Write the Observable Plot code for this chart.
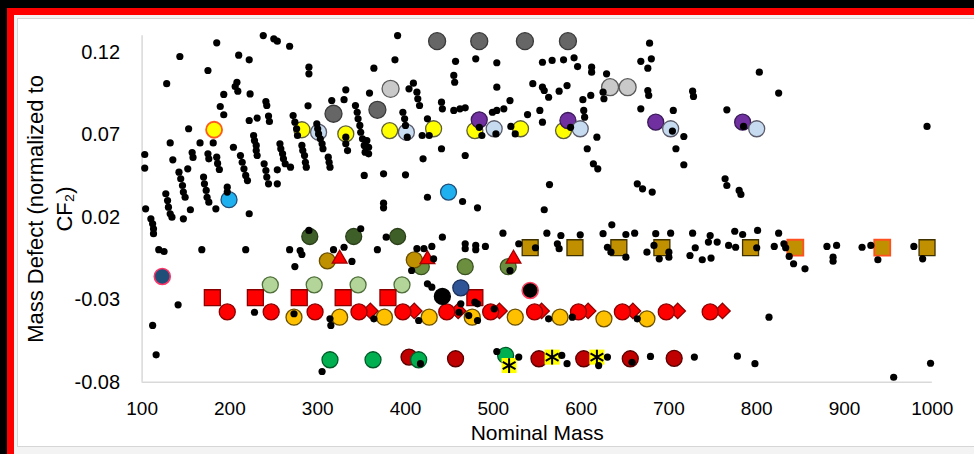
<!DOCTYPE html>
<html><head><meta charset="utf-8">
<script src="https://cdn.jsdelivr.net/npm/d3@7"></script>
<script src="https://cdn.jsdelivr.net/npm/@observablehq/plot@0.6"></script>
<style>
html,body{margin:0;padding:0;background:#000;width:974px;height:454px;overflow:hidden;}
#red{position:absolute;left:7px;top:8px;right:0;bottom:0;background:#ff0000;}
#inner{position:absolute;left:14px;top:15px;right:0;bottom:0;background:#f3f3f3;}
#paper{position:absolute;left:17px;top:18px;width:960px;height:427px;background:#fff;border:1px solid #d6d6d6;}
#chart{position:absolute;left:0;top:0;}
</style></head><body>
<div id="red"></div><div id="inner"></div><div id="paper"></div>
<div id="chart"></div>
<script>
const xTicks = [100,200,300,400,500,600,700,800,900,1000];
const yTicks = [-0.08,-0.03,0.02,0.07,0.12];

const darkGrayMass = [436,484,536,585,318,368];
const darkGrayDefect = [0.1267,0.1267,0.1267,0.1267,0.0827,0.0851];
const lightGrayMass = [383,633,653];
const lightGrayDefect = [0.0978,0.0988,0.0988];
const yellowMass = [282,332,382,432,479,531,580];
const yellowDefect = [0.0730,0.0705,0.0725,0.0736,0.0725,0.0736,0.0725];
const yellowOrangeMass = [182];
const yellowOrangeDefect = [0.0730];
const purpleMass = [484,585,685,784];
const purpleDefect = [0.0790,0.0786,0.0776,0.0776];
const lightBlueMass = [301,401,501,599,702,800];
const lightBlueDefect = [0.0715,0.0715,0.0736,0.0736,0.0736,0.0736];
const cyanMass = [199,449];
const cyanDefect = [0.0306,0.0352];
const darkGreenMass = [291,341,391];
const darkGreenDefect = [0.0083,0.0083,0.0083];
const medGreenMass = [418,468,517];
const medGreenDefect = [-0.0100,-0.0100,-0.0100];
const goldCircleMass = [311,410];
const goldCircleDefect = [-0.0065,-0.0059];
const redTriangleMass = [325,425,523];
const redTriangleDefect = [-0.0052,-0.0056,-0.0052];
const lightGreenMass = [246,296,346,396];
const lightGreenDefect = [-0.0210,-0.0210,-0.0210,-0.0210];
const redSquareMass = [180,229,279,329,380,479];
const redSquareDefect = [-0.0288,-0.0288,-0.0288,-0.0288,-0.0288,-0.0288];
const redDiamondMass = [360,410,460,507,555,608,659,710,761];
const redDiamondDefect = [-0.0368,-0.0368,-0.0368,-0.0368,-0.0368,-0.0368,-0.0368,-0.0368,-0.0368];
const redCircleMass = [197,247,297,347,397,447,497,547,597,647,697,747];
const redCircleDefect = [-0.0374,-0.0374,-0.0374,-0.0374,-0.0374,-0.0374,-0.0374,-0.0374,-0.0374,-0.0374,-0.0374,-0.0374];
const orangeCircleMass = [273,325,376,427,476,525,576,626,675];
const orangeCircleDefect = [-0.0406,-0.0406,-0.0406,-0.0406,-0.0406,-0.0406,-0.0406,-0.0416,-0.0416];
const goldSquareMass = [542,593,643,692,793,994];
const goldSquareDefect = [0.0015,0.0015,0.0015,0.0015,0.0015,0.0015];
const goldSquareOrangeMass = [844,943];
const goldSquareOrangeDefect = [0.0015,0.0015];
const navyMass = [123];
const navyDefect = [-0.0159];
const blueMass = [463];
const blueDefect = [-0.0228];
const blackBigMass = [442];
const blackBigDefect = [-0.0280];
const blackRingMass = [542];
const blackRingDefect = [-0.0244];
const darkRedMass = [404,457,552,603,656,706];
const darkRedDefect = [-0.0648,-0.0658,-0.0658,-0.0658,-0.0658,-0.0655];
const greenMass = [314,363,415,514];
const greenDefect = [-0.0664,-0.0664,-0.0664,-0.0638];
const yellowXMass = [518,567,618];
const yellowXDefect = [-0.0699,-0.0648,-0.0648];

const blackMass = [
238,250,254,268,185,143,210,222,175,290,
290,128,208,206,209,193,223,241,242,189,
193,289,222,231,244,245,272,274,276,277,
153,332,330,316,359,388,391,364,132,166,
181,204,157,158,135,103,103,175,176,185,
186,188,227,228,230,230,231,212,214,216,
218,220,239,241,242,244,257,258,260,261,
263,269,282,283,285,286,287,299,300,301,
303,305,306,312,313,314,332,332,334,343,
345,346,348,349,351,353,354,356,358,358,
353,375,142,144,146,147,149,152,170,171,
173,174,176,127,129,130,132,134,197,197,
254,254,104,155,147,184,222,110,112,113,
113,119,125,168,218,268,280,282,290,141,
112,116,274,318,330,339,349,368,375,375,
378,228,273,314,315,364,305,457,480,504,
556,567,580,592,596,612,612,629,668,680,
676,678,455,456,409,413,414,416,404,441,
442,455,462,468,504,519,499,504,512,545,
556,558,563,575,584,539,553,556,602,611,
603,604,625,626,676,677,668,705,397,399,
400,425,427,419,402,484,487,503,520,525,
588,618,607,441,420,468,400,614,619,564,
664,670,681,425,465,708,704,803,825,727,
728,766,717,717,764,766,780,782,994,785,
482,558,442,511,561,577,599,635,625,651,
661,685,702,413,421,430,468,468,480,480,
491,529,548,573,575,630,634,651,675,683,
689,700,407,432,519,425,430,415,463,461,
482,482,472,501,563,590,664,504,529,578,
584,620,630,658,679,417,700,727,730,724,
738,747,745,755,748,768,776,775,784,801,
820,825,831,833,837,842,855,880,891,887,
887,920,930,938,979,989,814,729,778,798,
956,998,800,479
];
const blackDefect = [
0.1301,0.1281,0.1267,0.1236,0.1257,0.1174,0.1182,0.1154,0.1089,0.1109,
0.1069,0.1009,0.1018,0.0992,0.0964,0.0944,0.0947,0.0901,0.0877,0.0871,
0.0821,0.0875,0.0786,0.0801,0.0813,0.0780,0.0816,0.0776,0.0736,0.0695,
0.0736,0.0972,0.0912,0.0907,0.0952,0.1154,0.1301,0.1103,0.0650,0.0650,
0.0650,0.0624,0.0592,0.0562,0.0548,0.0580,0.0498,0.0584,0.0554,0.0564,
0.0526,0.0489,0.0695,0.0665,0.0635,0.0604,0.0574,0.0574,0.0533,0.0493,
0.0453,0.0422,0.0524,0.0483,0.0443,0.0402,0.0645,0.0615,0.0584,0.0554,
0.0524,0.0503,0.0635,0.0604,0.0574,0.0533,0.0503,0.0766,0.0736,0.0705,
0.0675,0.0645,0.0615,0.0564,0.0533,0.0503,0.0685,0.0645,0.0604,0.0877,
0.0836,0.0796,0.0756,0.0715,0.0675,0.0635,0.0594,0.0665,0.0624,0.0584,
0.0453,0.0463,0.0473,0.0433,0.0392,0.0352,0.0321,0.0493,0.0443,0.0402,
0.0362,0.0321,0.0291,0.0342,0.0301,0.0261,0.0221,0.0200,0.0382,0.0352,
0.0487,0.0402,0.0251,0.0245,0.0190,0.0251,0.0221,0.0190,0.0160,0.0130,
0.0100,0.0003,-0.0008,0.0003,0.0003,0.0003,-0.0002,-0.0026,0.0120,-0.0331,
-0.0456,-0.0634,-0.0099,0.0003,0.0018,-0.0068,0.0130,0.0003,0.0285,0.0257,
0.0079,-0.0376,-0.0385,-0.0416,-0.0456,-0.0416,-0.0735,0.1145,0.1160,0.1136,
0.1139,0.1150,0.1154,0.1166,0.1113,0.1109,0.1079,0.1069,0.1145,0.1160,
0.1103,0.1255,0.1059,0.1018,0.1012,0.0958,0.0918,0.0877,0.0978,0.0897,
0.0857,0.0847,0.0857,0.0863,0.0988,0.0907,0.0836,0.0847,0.0857,0.1009,
0.0988,0.0968,0.0927,0.0964,0.0998,0.0822,0.0847,0.0776,0.0912,0.0938,
0.0847,0.0806,0.0958,0.0918,0.0968,0.0938,0.0857,0.0847,0.0836,0.0796,
0.0756,0.0796,0.0695,0.0695,0.0685,0.0745,0.0695,0.0705,0.0750,0.0705,
0.0745,0.0685,0.0615,0.0615,0.0554,0.0574,0.0457,0.0524,0.0493,0.0398,
0.0402,0.0372,0.0352,0.0321,0.0295,0.0615,0.0722,0.1079,0.0952,0.0964,
0.0932,0.0851,0.0689,0.0518,0.0433,0.0392,0.0362,0.0338,0.0750,0.0750,
0.0257,0.0245,0.0079,0.0103,0.0103,0.0089,0.0093,0.0154,0.0100,0.0095,
0.0103,0.0100,0.0103,0.0009,0.0009,0.0023,0.0039,0.0009,0.0029,0.0003,
0.0023,0.0039,0.0015,0.0039,0.0009,0.0018,-0.0012,-0.0042,-0.0012,0.0029,
-0.0052,-0.0042,-0.0123,-0.0052,-0.0123,-0.0204,-0.0224,-0.0426,-0.0325,-0.0376,
-0.0325,-0.0426,-0.0396,-0.0355,-0.0416,-0.0406,-0.0416,-0.0614,-0.0648,-0.0638,
-0.0688,-0.0699,-0.0648,-0.0679,-0.0644,-0.0688,-0.0012,0.0103,0.0015,-0.0032,
-0.0058,0.0089,0.0049,0.0049,-0.0048,0.0029,0.0018,0.0115,0.0095,0.0120,
0.0023,0.0103,0.0039,0.0015,-0.0038,-0.0082,-0.0113,0.0023,0.0029,-0.0042,
-0.0067,0.0018,0.0029,-0.0058,0.0023,-0.0052,-0.0406,-0.0648,-0.0642,-0.0688,
-0.0770,-0.0685,0.0015,-0.0315
];

const pts = (ms, ds) => ms.map((m, i) => ({m, d: ds[i]}));
const layer = (ms, ds, o) => Plot.dot(pts(ms, ds), {x: "m", y: "d", strokeWidth: 1.3, ...o});

const chart = Plot.plot({
  width: 974, height: 454,
  marginLeft: 141.6, marginRight: 42.2, marginTop: 35.2, marginBottom: 72.3,
  x: {domain: [100, 1000]},
  y: {domain: [-0.08, 0.13]},
  style: {background: "transparent", fontFamily: "'Liberation Sans', Arial, sans-serif", fontSize: "19px", color: "#000", overflow: "visible"},
  marks: [
    Plot.ruleY([-0.08], {stroke: "#d9d9d9", strokeWidth: 1.5}),
    Plot.ruleX([100], {stroke: "#d9d9d9", strokeWidth: 1.5}),
    Plot.axisX({ticks: xTicks, tickSize: 0, tickPadding: 19, tickFormat: d => String(d), label: null, fontSize: 19}),
    Plot.axisY({ticks: yTicks, tickSize: 0, tickPadding: 22, tickFormat: d => d.toFixed(2), label: null, fontSize: 20}),
    Plot.text(["Nominal Mass"], {frameAnchor: "bottom", dy: 51, lineAnchor: "middle", fontSize: 21}),
    Plot.text(["Mass Defect (normalized to\nCF\u2082)"], {frameAnchor: "left", dx: -94, rotate: -90, lineAnchor: "middle", textAnchor: "middle", lineHeight: 1.3, fontSize: 22}),
    layer(darkGrayMass, darkGrayDefect, {r: 8.5, fill: "#666666", stroke: "#3a3a3a"}),
    layer(lightGrayMass, lightGrayDefect, {r: 8.5, fill: "#c9c9c9", stroke: "#5a5a5a"}),
    layer(yellowMass, yellowDefect, {r: 8, fill: "#ffff00", stroke: "#5f5f3a"}),
    layer(yellowOrangeMass, yellowOrangeDefect, {r: 8, fill: "#ffff00", stroke: "#ff5a1f", strokeWidth: 1.8}),
    layer(purpleMass, purpleDefect, {r: 8, fill: "#7030a0", stroke: "#3b1a5a"}),
    layer(lightBlueMass, lightBlueDefect, {r: 8, fill: "#c6dbf0", stroke: "#5a5a6a"}),
    layer(cyanMass, cyanDefect, {r: 8, fill: "#1eb0ef", stroke: "#1f4e79"}),
    layer(darkGreenMass, darkGreenDefect, {r: 8, fill: "#3f5f28", stroke: "#2a3f1a"}),
    layer(medGreenMass, medGreenDefect, {r: 8, fill: "#6b8f3e", stroke: "#3a5220"}),
    layer(goldCircleMass, goldCircleDefect, {r: 8, fill: "#bf9000", stroke: "#6b5000"}),
    layer(redTriangleMass, redTriangleDefect, {r: 5.5, symbol: "triangle", fill: "#ff0000", stroke: "#a00000"}),
    layer(lightGreenMass, lightGreenDefect, {r: 8, fill: "#b3d59a", stroke: "#4f6f3a"}),
    layer(redSquareMass, redSquareDefect, {r: 9, symbol: "square", fill: "#ff0000", stroke: "#8a0000"}),
    layer(redDiamondMass, redDiamondDefect, {r: 7, symbol: "diamond2", fill: "#ff0000", stroke: "#8a0000"}),
    layer(redCircleMass, redCircleDefect, {r: 8, fill: "#ff0000", stroke: "#8a0000"}),
    layer(orangeCircleMass, orangeCircleDefect, {r: 8, fill: "#ffc000", stroke: "#6b5000"}),
    layer(goldSquareMass, goldSquareDefect, {r: 9, symbol: "square", fill: "#c09000", stroke: "#3f3000"}),
    layer(goldSquareOrangeMass, goldSquareOrangeDefect, {r: 9, symbol: "square", fill: "#c09000", stroke: "#ff5020", strokeWidth: 1.8}),
    layer(navyMass, navyDefect, {r: 8, fill: "#1f4e79", stroke: "#ff3366", strokeWidth: 1.6}),
    layer(blueMass, blueDefect, {r: 8, fill: "#2f5597", stroke: "#1a2f5a"}),
    layer(blackBigMass, blackBigDefect, {r: 8, fill: "#000", stroke: "#000"}),
    layer(blackRingMass, blackRingDefect, {r: 8, fill: "#000", stroke: "#ff4060", strokeWidth: 1.6}),
    layer(darkRedMass, darkRedDefect, {r: 8, fill: "#c00000", stroke: "#5a0000"}),
    layer(greenMass, greenDefect, {r: 8, fill: "#00b050", stroke: "#005a28"}),
    layer(yellowXMass, yellowXDefect, {r: 8.5, symbol: "square", fill: "#ffff00", stroke: "none"}),
    layer(yellowXMass, yellowXDefect, {r: 7, symbol: "asterisk", stroke: "#000", strokeWidth: 2}),
    Plot.dot(pts(blackMass, blackDefect), {x: "m", y: "d", r: 3.6, fill: "#000"})
  ]
});
document.getElementById("chart").appendChild(chart);
</script>
</body></html>
